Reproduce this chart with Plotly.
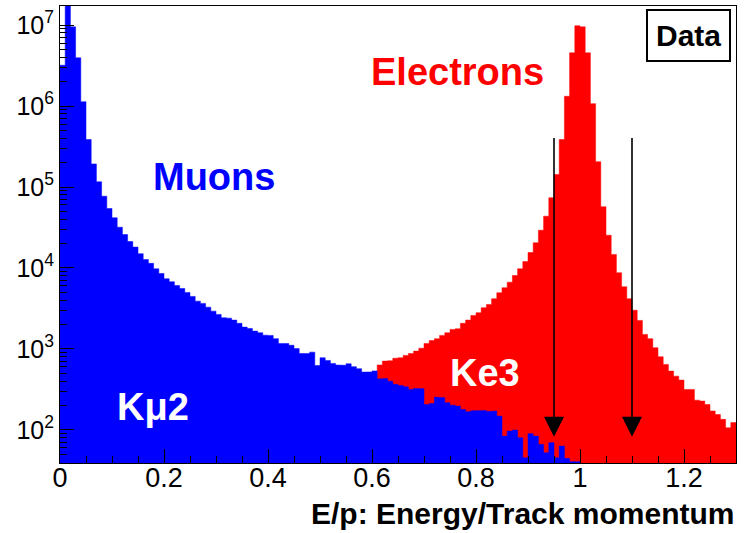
import numpy as np
import plotly.graph_objects as go

# ---------------- data ----------------
bin_width = 0.01
muon_first_edge = 0.0
electron_first_edge = 0.60

# counts per 0.01 bin, bins starting at E/p = 0.00
muon_counts = [
    3.19e6, 2.5e7, 9.5e6, 3.94e6, 1.13e6, 3.86e5, 1.93e5, 1.16e5, 7.7e4, 5.43e4,
    4.17e4, 3.19e4, 2.59e4, 2.12e4, 1.81e4, 1.50e4, 1.27e4, 1.14e4, 9770, 8550,
    7360, 6760, 6080, 5580, 4990, 4450, 3890, 3650, 3280, 2930,
    2670, 2430, 2400, 2270, 2070, 1860, 1790, 1660, 1585, 1480,
    1470, 1340, 1170, 1165, 1110, 1010, 880, 875, 913, 625,
    778, 721, 662, 633, 628, 656, 603, 570, 517, 520,
    535, 426, 432, 400, 365, 354, 341, 316, 325, 323,
    206, 212, 254, 250, 217, 202, 197, 179, 168, 172,
    170, 173, 169, 171, 148, 83.8, 96.6, 99.4, 80.1, 45.4,
    89.8, 83.8, 66.2, 52.3, 69.5, 45.4, 63.1, 44.5, 40.5, 40.5,
]

# counts per 0.01 bin, bins starting at E/p = 0.60
electron_counts = [
    500, 634, 707, 715, 768, 778, 832, 879, 940, 1020,
    1170, 1270, 1340, 1470, 1585, 1740, 1775, 2070, 2270, 2590,
    2800, 3230, 3540, 4170, 4940, 5700, 6680, 8070, 9770, 1.20e4,
    1.55e4, 2.05e4, 2.93e4, 4.36e4, 7.36e4, 1.43e5, 3.86e5, 1.32e6, 4.54e6, 9.8e6,
    9.5e6, 4.54e6, 1.07e6, 2.05e5, 5.70e4, 2.54e4, 1.47e4, 8730, 5860, 4170,
    3010, 2250, 1510, 1340, 1035, 801, 644, 532, 461, 412,
    316, 316, 233, 227, 206, 171, 155, 135, 106, 123,
]

x_tick_values = [0, 0.2, 0.4, 0.6, 0.8, 1.0, 1.2]
x_tick_labels = ["0", "0.2", "0.4", "0.6", "0.8", "1", "1.2"]
y_tick_values = [1e2, 1e3, 1e4, 1e5, 1e6, 1e7]
y_tick_labels = ["10<sup>2</sup>", "10<sup>3</sup>", "10<sup>4</sup>",
                 "10<sup>5</sup>", "10<sup>6</sup>", "10<sup>7</sup>"]

cut_values = [0.95, 1.10]
arrow_top_count = 4.2e5
arrow_tip_count = 82

x_range = [0.0, 1.3]
y_range = [39, 1.72e7]

# ---------------- figure ----------------
FONT = "Liberation Sans, Arial, Helvetica, sans-serif"
FLOOR = 1.0  # histogram baseline, below the visible log range


def step_outline(first_edge, counts):
    """Closed step outline of a histogram (bin edges x counts)."""
    edges = first_edge + bin_width * np.arange(len(counts) + 1)
    xs, ys = [edges[0]], [FLOOR]
    for i, c in enumerate(counts):
        xs += [edges[i], edges[i + 1]]
        ys += [c, c]
    xs += [edges[-1]]
    ys += [FLOOR]
    return xs, ys


fig = go.Figure()
ex, ey = step_outline(electron_first_edge, electron_counts)
fig.add_trace(go.Scatter(
    x=ex, y=ey, mode="lines", fill="toself", fillcolor="#ff0000",
    line=dict(color="#ff0000", width=0.5), name="Electrons", hoverinfo="skip",
))
mx, my = step_outline(muon_first_edge, muon_counts)
fig.add_trace(go.Scatter(
    x=mx, y=my, mode="lines", fill="toself", fillcolor="#0000ff",
    line=dict(color="#0000ff", width=0.5), name="Muons", hoverinfo="skip",
))

y_minor = [m * 10 ** e for e in range(1, 8) for m in range(2, 10)
           if y_range[0] <= m * 10 ** e <= y_range[1]]

fig.update_layout(
    width=750, height=533,
    margin=dict(l=60, r=14, t=6, b=70),
    paper_bgcolor="white", plot_bgcolor="white",
    showlegend=False,
    font=dict(family=FONT, color="black"),
    xaxis=dict(
        range=x_range, tickvals=x_tick_values, ticktext=x_tick_labels,
        ticks="inside", ticklen=14, tickwidth=1, tickcolor="black",
        minor=dict(ticks="inside", ticklen=7, tickwidth=1, tickcolor="black",
                   dtick=0.05, tick0=0, showgrid=False),
        showline=True, linecolor="black", linewidth=1, mirror=True,
        showgrid=False, zeroline=False, ticklabelstandoff=-9,
        tickfont=dict(family=FONT, size=27, color="black"),
    ),
    yaxis=dict(
        type="log", range=[np.log10(y_range[0]), np.log10(y_range[1])],
        tickvals=y_tick_values, ticktext=y_tick_labels,
        ticks="inside", ticklen=14, tickwidth=1, tickcolor="black",
        minor=dict(ticks="inside", ticklen=7, tickwidth=1, tickcolor="black",
                   tickvals=y_minor, showgrid=False),
        showline=True, linecolor="black", linewidth=1, mirror=True,
        showgrid=False, zeroline=False,
        tickfont=dict(family=FONT, size=25, color="black"),
    ),
)

annotations = []
for c in cut_values:
    annotations.append(dict(
        x=c, y=np.log10(arrow_tip_count), ax=c, ay=np.log10(arrow_top_count),
        xref="x", yref="y", axref="x", ayref="y", text="",
        showarrow=True, arrowhead=2, arrowsize=2.5, arrowwidth=1.6,
        arrowcolor="black", standoff=0,
    ))


def label(text, x, y, color, size=38, xanchor="center"):
    return dict(text="<b>%s</b>" % text, x=x, y=y, xref="paper", yref="paper",
                xanchor=xanchor, yanchor="middle", showarrow=False,
                font=dict(family=FONT, size=size, color=color))


annotations += [
    label("Muons", 0.228, 0.625, "#0000ff"),
    label("Electrons", 0.588, 0.856, "#ff0000"),
    label("Kμ2", 0.137, 0.1225, "white"),
    label("Ke3", 0.628, 0.197, "white"),
    label("E/p: Energy/Track momentum", 1.0, -0.111, "black", size=30, xanchor="right"),
]
data_box = label("Data", 0.929, 0.935, "black", size=30)
data_box.update(bordercolor="black", borderwidth=2, borderpad=8, bgcolor="white")
annotations.append(data_box)

fig.update_layout(annotations=annotations)
fig.write_html("out.html")
